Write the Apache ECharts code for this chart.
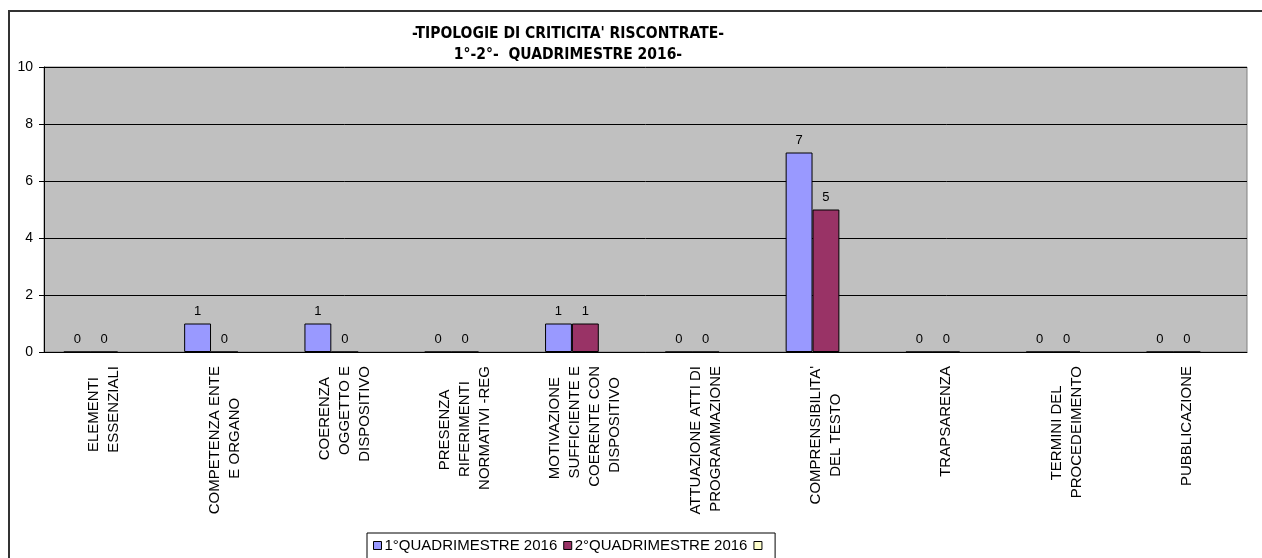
<!DOCTYPE html>
<html>
<head>
<meta charset="utf-8">
<script src="https://cdn.jsdelivr.net/npm/echarts@6/dist/echarts.min.js"></script>
<style>
    html, body { margin: 0; padding: 0; background: #fff; }
    #main { width: 1262px; height: 558px; }
</style>
</head>
<body>
<div id="main"></div>
<script>
// categorie (righe delle etichette separate da \n)
var categorie = [
    'ELEMENTI\nESSENZIALI',
    'COMPETENZA ENTE\nE ORGANO',
    'COERENZA\nOGGETTO E\nDISPOSITIVO',
    'PRESENZA\nRIFERIMENTI\nNORMATIVI -REG',
    'MOTIVAZIONE\nSUFFICIENTE E\nCOERENTE CON\nDISPOSITIVO',
    'ATTUAZIONE ATTI DI\nPROGRAMMAZIONE',
    'COMPRENSIBILITA\'\nDEL TESTO',
    'TRAPSARENZA',
    'TERMINI DEL\nPROCEDEIMENTO',
    'PUBBLICAZIONE'
];
var primoQuadr = [0, 1, 1, 0, 1, 0, 7, 0, 0, 0];
var secondoQuadr = [0, 0, 0, 0, 1, 0, 5, 0, 0, 0];
var terzaSerie = [null, null, null, null, null, null, null, null, null, null];
var nomiSerie = ['1°QUADRIMESTRE 2016', '2°QUADRIMESTRE 2016', ' '];
var tickY = [0, 2, 4, 6, 8, 10];

var myChart = echarts.init(document.getElementById('main'));
var font = '"Liberation Sans", Arial, sans-serif';
var fsCat = 15;

// le etichette ruotate restano allineate in cima all'asse;
// le righe più corte vengono centrate con spazi finali
// (chiusi da un carattere vuoto U+2800 perché non vengano tolti)
var ctx = document.createElement('canvas').getContext('2d');
ctx.font = fsCat + 'px ' + font;
var VUOTO = '\u2800';
var centraRighe = function (v) {
    var righe = v.split('\n');
    var w = 0;
    righe.forEach(function (r) { w = Math.max(w, ctx.measureText(r).width); });
    var sp = ctx.measureText(' ').width;
    var bw = ctx.measureText(VUOTO).width;
    return righe.map(function (r) {
        var pad = (w - ctx.measureText(r).width) / 2;
        if (pad < bw / 2) {
            return r;
        }
        var n = Math.max(0, Math.round((pad - bw) / sp));
        return r + new Array(n + 1).join(' ') + VUOTO;
    }).join('\n');
};

var barSeries = function (name, data, color, showLabel) {
    return {
        name: name,
        type: 'bar',
        data: data,
        barGap: '0%',
        barCategoryGap: '33%',
        itemStyle: { color: color, borderColor: '#000', borderWidth: 1 },
        label: {
            show: showLabel,
            position: 'top',
            distance: 6,
            color: '#000',
            fontFamily: font,
            fontSize: 13
        }
    };
};

var option = {
    backgroundColor: '#fff',
    animation: false,
    title: {
        text: '-TIPOLOGIE DI CRITICITA\' RISCONTRATE-\n1°-2°-  QUADRIMESTRE 2016-',
        left: 563,
        top: 18,
        textAlign: 'center',
        textStyle: {
            fontFamily: '"Liberation Sans Narrow", "DejaVu Sans Condensed", sans-serif',
            fontWeight: 'bold',
            fontSize: 15.5,
            lineHeight: 21,
            color: '#000'
        }
    },
    graphic: [{
        type: 'rect',
        shape: { x: 9, y: 11, width: 1400, height: 700 },
        style: { fill: null, stroke: '#333', lineWidth: 2 },
        silent: true
    }],
    legend: {
        left: 367,
        top: 533,
        data: nomiSerie,
        icon: 'rect',
        itemWidth: 8,
        itemHeight: 8,
        itemGap: 6,
        padding: [5, 6, 8, 6],
        borderColor: '#000',
        borderWidth: 1,
        itemStyle: { borderColor: '#000', borderWidth: 1 },
        textStyle: { fontFamily: font, fontSize: 15, color: '#000', padding: [0, 0, 0, -2] }
    },
    grid: {
        left: 44,
        right: 15,
        top: 67,
        bottom: 206,
        outerBoundsMode: 'none',
        show: true,
        backgroundColor: '#c0c0c0',
        borderColor: '#808080',
        borderWidth: 1
    },
    xAxis: {
        type: 'category',
        data: categorie,
        axisLine: { lineStyle: { color: '#000', width: 1 } },
        axisTick: { length: 4, lineStyle: { color: '#000' } },
        axisLabel: {
            rotate: 90,
            interval: 0,
            margin: 14,
            formatter: centraRighe,
            fontFamily: font,
            fontSize: fsCat,
            lineHeight: 20,
            color: '#000'
        }
    },
    yAxis: {
        type: 'value',
        min: tickY[0],
        max: tickY[tickY.length - 1],
        interval: 2,
        axisLine: { show: true, lineStyle: { color: '#000' } },
        axisTick: { show: true, length: 5, lineStyle: { color: '#000' } },
        axisLabel: { color: '#000', fontFamily: font, fontSize: 14, margin: 11 },
        splitLine: { lineStyle: { color: '#000', width: 1 } }
    },
    series: [
        barSeries(nomiSerie[0], primoQuadr, '#9999ff', true),
        barSeries(nomiSerie[1], secondoQuadr, '#993366', true),
        barSeries(nomiSerie[2], terzaSerie, '#ffffcc', false)
    ]
};

myChart.setOption(option);
</script>
</body>
</html>
